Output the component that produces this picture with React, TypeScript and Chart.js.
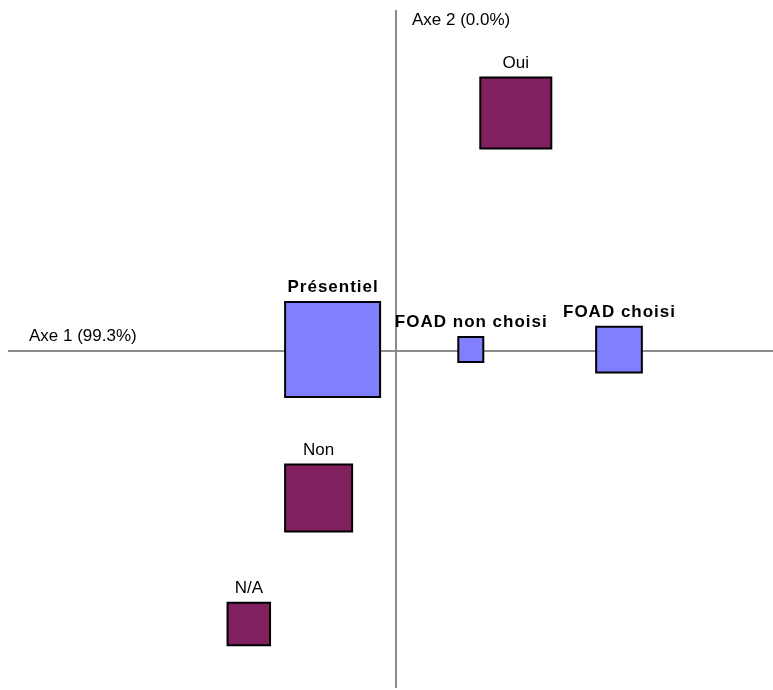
import React, { useEffect, useRef } from "react";
import { Chart, registerables } from "chart.js";

Chart.register(...registerables);

// Active categories (Axe 1 / Axe 2 coordinates and relative masses)
const activeLabels = ["Présentiel", "FOAD non choisi", "FOAD choisi"];
const activeX = [-0.317, 0.374, 1.115];
const activeY = [0.008, 0.008, 0.007];
const activeMass = [0.95, 0.25, 0.457];

// Supplementary categories
const suppLabels = ["Oui", "Non", "N/A"];
const suppX = [0.599, -0.387, -0.736];
const suppY = [1.19, -0.735, -1.365];
const suppMass = [0.71, 0.67, 0.425];

const axisTitles = ["Axe 1 (99.3%)", "Axe 2 (0.0%)"];
const xRange = [-1.94, 1.885];
const yRange = [-1.685, 1.705];

const MASS_TO_SIDE = 100;
const FONT_FAMILY = '"Liberation Sans", Arial, Helvetica, sans-serif';

const toRadius = (m: number) => (m * MASS_TO_SIDE) / Math.SQRT2;

const axesPlugin = {
  id: "axesPlugin",
  beforeDatasetsDraw(chart: any) {
    const { ctx, chartArea, scales } = chart;
    const x0 = scales.x.getPixelForValue(0);
    const y0 = scales.y.getPixelForValue(0);
    ctx.save();
    ctx.strokeStyle = "#8c8c8c";
    ctx.lineWidth = 2;
    ctx.beginPath();
    ctx.moveTo(chartArea.left, y0);
    ctx.lineTo(chartArea.right, y0);
    ctx.moveTo(x0, chartArea.top);
    ctx.lineTo(x0, chartArea.bottom);
    ctx.stroke();
    ctx.fillStyle = "#000";
    ctx.font = `17px ${FONT_FAMILY}`;
    ctx.textAlign = "left";
    ctx.textBaseline = "alphabetic";
    ctx.fillText(axisTitles[0], chartArea.left + 21, y0 - 10);
    ctx.fillText(axisTitles[1], x0 + 16, chartArea.top + 15);
    ctx.restore();
  },
  afterDatasetsDraw(chart: any) {
    const { ctx } = chart;
    ctx.save();
    ctx.fillStyle = "#000";
    ctx.textAlign = "center";
    ctx.textBaseline = "alphabetic";
    chart.data.datasets.forEach((ds: any, di: number) => {
      const meta = chart.getDatasetMeta(di);
      const bold = ds.boldLabels;
      ctx.font = `${bold ? "bold " : ""}17px ${FONT_FAMILY}`;
      try {
        (ctx as any).letterSpacing = bold ? "1px" : "0px";
      } catch (e) {}
      meta.data.forEach((el: any, i: number) => {
        const r = ds.pointRadius[i];
        const half = (r * Math.SQRT2) / 2;
        const top = el.y - half - 1;
        ctx.fillText(ds.pointLabels[i], el.x + (bold ? 0.5 : 0), top - 9);
      });
    });
    try {
      (ctx as any).letterSpacing = "0px";
    } catch (e) {}
    ctx.restore();
  },
};

export default function App() {
  const canvasRef = useRef<HTMLCanvasElement | null>(null);

  useEffect(() => {
    document.body.style.margin = "0";
    const canvas = canvasRef.current;
    if (!canvas) return;
    const chart = new Chart(canvas, {
      type: "scatter",
      data: {
        datasets: [
          {
            label: "Actives",
            data: activeX.map((x, i) => ({ x, y: activeY[i] })),
            pointStyle: "rect",
            pointRadius: activeMass.map(toRadius),
            backgroundColor: "#8080ff",
            borderColor: "#000000",
            borderWidth: 2,
            clip: false,
            pointLabels: activeLabels,
            boldLabels: true,
          } as any,
          {
            label: "Supplémentaires",
            data: suppX.map((x, i) => ({ x, y: suppY[i] })),
            pointStyle: "rect",
            pointRadius: suppMass.map(toRadius),
            backgroundColor: "#80205f",
            borderColor: "#000000",
            borderWidth: 2,
            clip: false,
            pointLabels: suppLabels,
            boldLabels: false,
          } as any,
        ],
      },
      options: {
        animation: false,
        responsive: false,
        maintainAspectRatio: false,
        layout: { autoPadding: false, padding: { left: 8, right: 0, top: 10, bottom: 2 } },
        plugins: {
          legend: { display: false },
          tooltip: { enabled: false },
        },
        scales: {
          x: { type: "linear", min: xRange[0], max: xRange[1], display: false },
          y: { type: "linear", min: yRange[0], max: yRange[1], display: false },
        },
      },
      plugins: [axesPlugin],
    });
    return () => chart.destroy();
  }, []);

  return (
    <div style={{ width: 773, height: 690, background: "#fff" }}>
      <canvas ref={canvasRef} width={773} height={690} style={{ display: "block" }} />
    </div>
  );
}
